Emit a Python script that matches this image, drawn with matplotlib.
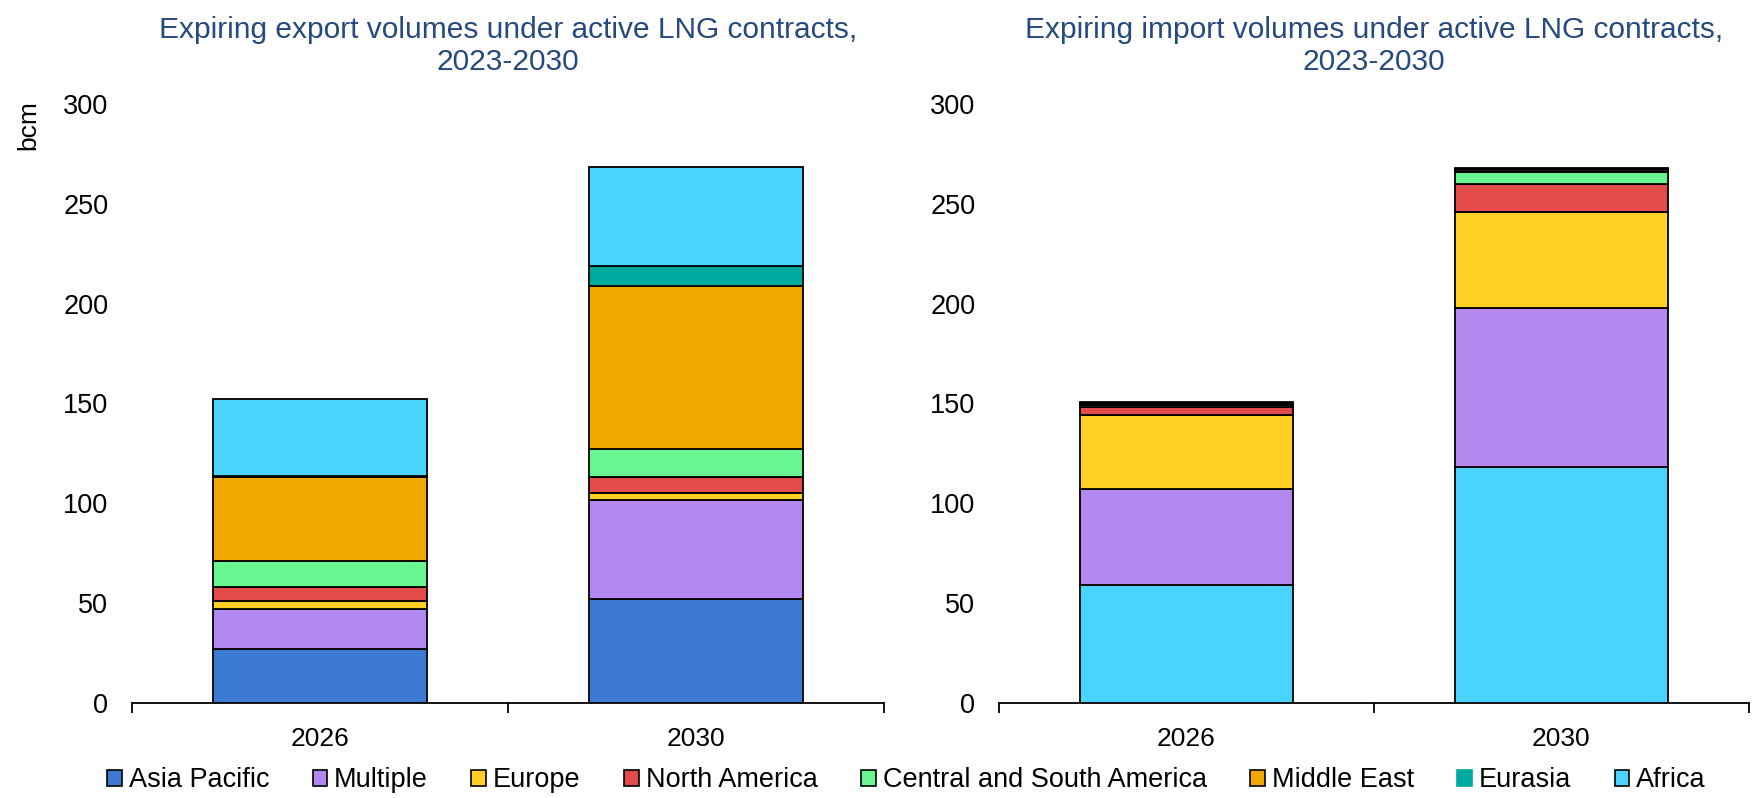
import matplotlib
matplotlib.use("Agg")
import matplotlib.pyplot as plt
from matplotlib.patches import Patch
import numpy as np

plt.rcParams['font.family'] = ['Liberation Sans', 'DejaVu Sans']

years = ["2026", "2030"]
regions = ["Asia Pacific", "Multiple", "Europe", "North America",
           "Central and South America", "Middle East", "Eurasia", "Africa"]
region_colors = ["#3D7AD4", "#B388EF", "#FDD023", "#E34A4A",
                 "#69F590", "#F0A800", "#00AA9F", "#48D4FF"]

# Export volumes (bcm), stacked bottom to top in legend order
export_values = {
    "Asia Pacific":              [27.0, 52.0],
    "Multiple":                  [20.0, 49.5],
    "Europe":                    [4.0, 3.7],
    "North America":             [7.0, 7.8],
    "Central and South America": [13.0, 14.3],
    "Middle East":               [42.0, 81.5],
    "Eurasia":                   [0.5, 10.0],
    "Africa":                    [38.5, 49.5],
}

# Import volumes (bcm), stacked bottom to top, with the colours used in the panel
import_segments = ["Africa", "Multiple", "Europe", "North America",
                   "Central and South America", "Eurasia", "Middle East"]
import_values = {
    "Africa":                    [59.0, 118.0],
    "Multiple":                  [48.0, 80.0],
    "Europe":                    [37.0, 48.0],
    "North America":             [4.0, 14.0],
    "Central and South America": [1.2, 6.0],
    "Eurasia":                   [1.0, 1.5],
    "Middle East":               [0.6, 0.4],
}
import_colors = {
    "Africa": "#48D4FF", "Multiple": "#B388EF", "Europe": "#FDD023",
    "North America": "#E34A4A", "Central and South America": "#69F590",
    "Eurasia": "#1a1a1a", "Middle East": "#F0A800",
}

titles = ["Expiring export volumes under active LNG contracts,\n2023-2030",
          "Expiring import volumes under active LNG contracts,\n2023-2030"]
yticks = [0, 50, 100, 150, 200, 250, 300]
title_color = "#26497E"

fig = plt.figure(figsize=(17.6, 7.98), dpi=100)
ax1 = fig.add_axes([0.075, 0.119, 0.427, 0.751])
ax2 = fig.add_axes([0.5676, 0.119, 0.4261, 0.751])

x = np.arange(len(years))
width = 0.57

def draw_stack(ax, names, values, colors):
    bottom = np.zeros(len(years))
    for n in names:
        v = np.array(values[n])
        ax.bar(x, v, width, bottom=bottom, color=colors[n],
               edgecolor="black", linewidth=1.3, zorder=3)
        bottom += v

draw_stack(ax1, regions, export_values, dict(zip(regions, region_colors)))
draw_stack(ax2, import_segments, import_values, import_colors)

for ax, t in zip([ax1, ax2], titles):
    ax.set_xlim(-0.5, len(years) - 0.5)
    ax.set_ylim(0, 300)
    ax.set_yticks(yticks)
    ax.set_xticks(x)
    ax.set_xticklabels(years)
    ax.set_xticks(np.arange(-0.5, len(years)), minor=True)
    ax.tick_params(axis='x', which='major', length=0, pad=17, labelsize=19)
    ax.tick_params(axis='x', which='minor', length=7, width=1.3, direction='out')
    ax.tick_params(axis='y', length=0, pad=17, labelsize=19.5)
    for s in ["top", "right", "left"]:
        ax.spines[s].set_visible(False)
    ax.spines["bottom"].set_linewidth(1.3)
    ax.set_title(t, color=title_color, fontsize=21.5, pad=24, linespacing=1.2)

fig.text(0.016, 0.875, "bcm", rotation=90, fontsize=19, ha='center', va='top')

handles = [Patch(facecolor=c, edgecolor="black" if r != "Eurasia" else c, linewidth=1.2)
           for r, c in zip(regions, region_colors)]
fig.legend(handles, regions, loc='center', bbox_to_anchor=(0.515, 0.022), ncol=8,
           frameon=False, fontsize=19.5, handlelength=0.55, handleheight=0.55,
           handletextpad=0.25, columnspacing=1.6)

fig.savefig("out.png", dpi=100)
